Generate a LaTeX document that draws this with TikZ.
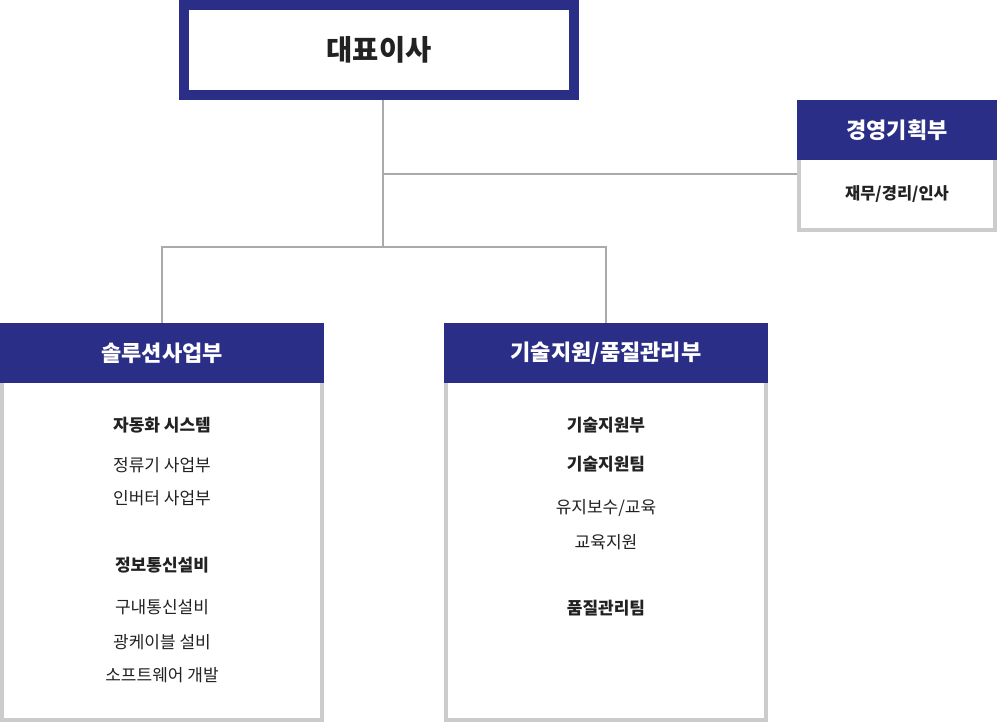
\documentclass[tikz,border=0pt]{standalone}
\usepackage{fontspec}
\setmainfont{Noto Sans CJK KR}
\usetikzlibrary{positioning}
\definecolor{navy}{RGB}{43,46,135}
\definecolor{boxgray}{RGB}{204,204,204}
\definecolor{linegray}{RGB}{170,170,170}
\definecolor{ink}{RGB}{34,34,34}

\begin{document}
\begin{tikzpicture}[x=1pt,y=-1pt,
  boss/.style={draw=navy,line width=10pt,fill=white,minimum width=390pt,minimum height=90pt,
    text=ink,font=\fontsize{28.5}{32}\selectfont\bfseries},
  head/.style={fill=navy,text=white,minimum height=60pt,outer sep=0pt,inner sep=0pt,
    font=\fontsize{22}{26}\selectfont\bfseries},
  panel/.style={draw=boxgray,line width=4pt,fill=white,inner sep=0pt},
  item/.style={text=ink,font=\fontsize{17}{20}\selectfont},
  itembold/.style={text=ink,font=\fontsize{17}{20}\selectfont\bfseries},
  link/.style={draw=linegray,line width=1.6pt}]
\useasboundingbox (0,0) rectangle (997,722);

\coordinate (tap) at (383,174);
\coordinate (hub) at (383,247);

% Draw boxes
\node[boss] (ceo) at (379,50) {\raisebox{-2pt}{대표이사}};

\node[panel,minimum width=196pt,minimum height=72pt,text=ink,
  font=\fontsize{16.5}{20}\selectfont\bfseries] (mgmt) at (897,194) {재무/경리/인사};
\node[head,minimum width=200pt,above=-4pt of mgmt] (mgmthead) {경영기획부};

\node[panel,minimum width=320pt,minimum height=339pt] (solu) at (162,550.5) {};
\node[head,minimum width=324pt,above=-4pt of solu] (soluhead) {솔루션사업부};

\node[panel,minimum width=320pt,minimum height=339pt] (tech) at (606,550.5) {};
\node[head,minimum width=324pt,above=-4pt of tech] (techhead) {기술지원/품질관리부};

% Draw lines
\draw[link] (ceo.south -| hub) -- (hub);
\draw[link] (tap) -- (mgmt.west |- tap);
\draw[link] (soluhead.north) -- (soluhead.north |- hub)
  -- (techhead.north |- hub) -- (techhead.north);

% solution division
\node[itembold] (solu1) at (162,425) {자동화 시스템};
\node[item] (solu2) at (162,465) {정류기 사업부};
\node[item] (solu3) at (162,498) {인버터 사업부};
\node[itembold] (solu4) at (162,565) {정보통신설비};
\node[item] (solu5) at (162,607) {구내통신설비};
\node[item] (solu6) at (162,642) {광케이블 설비};
\node[item] (solu7) at (162,675) {소프트웨어 개발};

% technical support / quality
\node[itembold] (tech1) at (606,425) {기술지원부};
\node[itembold] (tech2) at (606,464) {기술지원팀};
\node[item] (tech3) at (606,508) {유지보수/교육};
\node[item] (tech4) at (606,542) {교육지원};
\node[itembold] (tech5) at (606,608) {품질관리팀};
\end{tikzpicture}
\end{document}
